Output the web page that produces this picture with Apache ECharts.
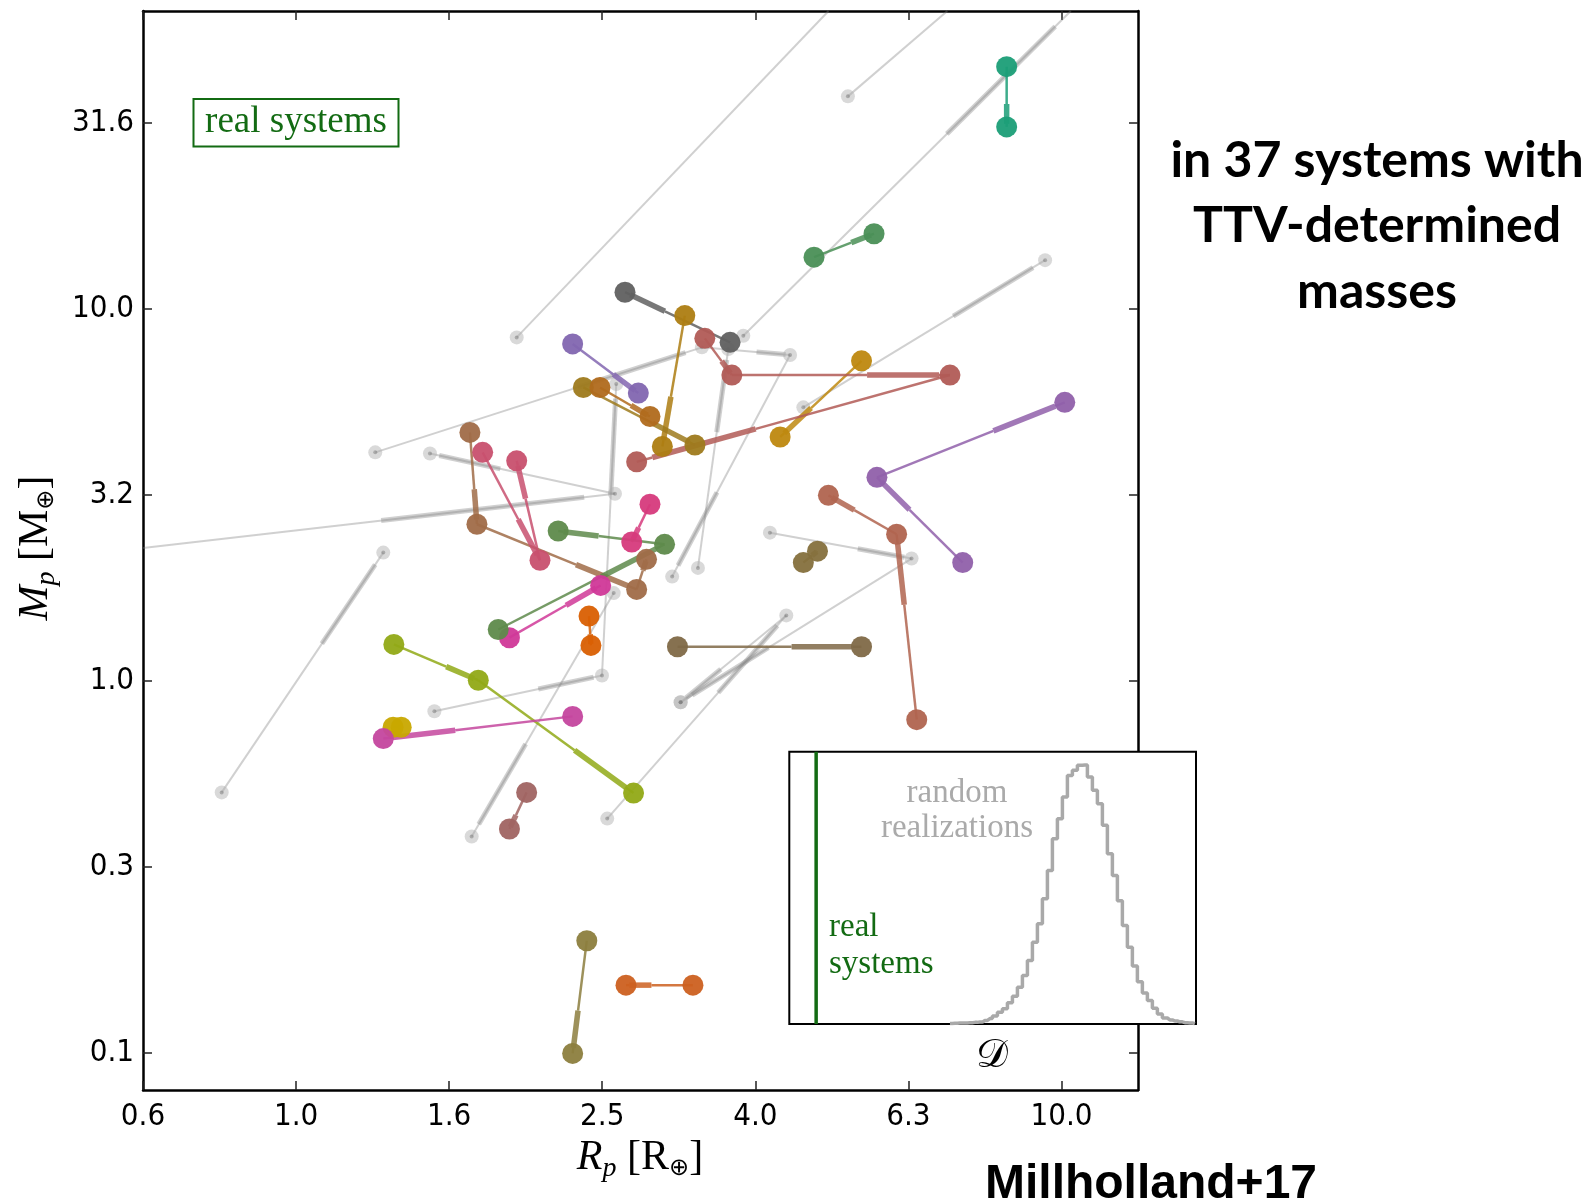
<!DOCTYPE html>
<html><head><meta charset="utf-8">
<script src="https://cdn.jsdelivr.net/npm/echarts@6/dist/echarts.min.js"></script>
<style>html,body{margin:0;padding:0;background:#fff}#main{width:1589px;height:1204px}</style>
</head><body><div id="main"></div>
<script>
// ---------- tick marks ----------
const xTickValues = [0.631, 1.0, 1.585, 2.512, 3.981, 6.310, 10.0];
const xTickLabels = ['0.6', '1.0', '1.6', '2.5', '4.0', '6.3', '10.0'];
const yTickValues = [0.1, 0.3162, 1.0, 3.162, 10.0, 31.62];
const yTickLabels = ['0.1', '0.3', '1.0', '3.2', '10.0', '31.6'];
const xLimits = [0.631, 12.59];   // R_p range shown
const yLimits = [0.0794, 63.1];   // M_p range shown

// ---------- real systems: [R_p, M_p] per planet, in orbital order ----------
const realSystems = [
  [[8.48, 44.7], [8.48, 30.8]],
  [[4.75, 13.75], [5.69, 15.9]],
  [[3.69, 8.12], [2.69, 11.07]],
  [[3.22, 9.58], [3.01, 4.26]],
  [[2.373, 6.14], [3.32, 4.30]],
  [[2.495, 6.14], [2.90, 5.13]],
  [[5.48, 7.24], [4.29, 4.52]],
  [[3.42, 8.32], [3.71, 6.63], [7.15, 6.63], [2.786, 3.875]],
  [[2.298, 8.04], [2.80, 5.93]],
  [[7.43, 2.077], [5.74, 3.52], [10.1, 5.60]],
  [[6.47, 0.786], [6.09, 2.475], [4.96, 3.15]],
  [[3.15, 1.234], [5.48, 1.234]],
  [[4.60, 2.077], [4.80, 2.23]],
  [[1.687, 4.65], [1.723, 2.634], [2.786, 1.76], [2.87, 2.12]],
  [[1.753, 4.11], [2.083, 2.107], [1.942, 3.90]],
  [[2.90, 2.98], [2.745, 2.36]],
  [[1.90, 1.305], [2.50, 1.804]],
  [[1.837, 1.373], [3.03, 2.326], [2.20, 2.526]],
  [[2.414, 1.492], [2.428, 1.244]],
  [[1.342, 1.252], [1.73, 1.003], [2.76, 0.499]],
  [[1.339, 0.750], [1.372, 0.750]],
  [[2.298, 0.802], [1.30, 0.699]],
  [[2.001, 0.501], [1.90, 0.3994]],
  [[2.398, 0.2001], [2.298, 0.0996]],
  [[3.30, 0.152], [2.698, 0.152]]
];
const realColors = [
  '#1b9e77', '#4a8f56', '#606060', '#ad7d12', '#9e7a1c', '#b06a1c', '#be880f',
  '#b15b56', '#8266b0', '#9060aa', '#b0644f', '#7f6947', '#85703d', '#a06c48',
  '#c8506e', '#d63a7c', '#d03898', '#5e8a4b', '#d95f02', '#91a916', '#c8a800',
  '#c4469e', '#a06462', '#8c7e3e', '#cc6020'
];

// ---------- random realizations (grey) ----------
const randomSystems = [
  [[1.942, 8.37], [15.85, 769]],
  [[5.26, 37.2], [19.95, 392]],
  [[3.84, 8.46], [10.31, 63.4]],
  [[4.60, 5.43], [9.52, 13.5]],
  [[1.269, 4.11], [3.39, 7.87], [4.42, 7.51], [3.10, 1.905]],
  [[0.410, 2.055], [2.61, 3.18], [1.496, 4.08]],
  [[4.16, 2.50], [6.37, 2.13], [3.18, 0.875]],
  [[2.55, 0.426], [4.37, 1.498], [3.18, 0.875]],
  [[3.35, 2.01], [3.67, 7.79]],
  [[1.516, 0.828], [2.51, 1.033], [2.62, 6.27]],
  [[2.60, 1.72], [1.696, 0.3815]],
  [[0.7995, 0.501], [1.30, 2.21]]
];

// ---------- inset: distribution of the statistic D ----------
const histCounts = [0.2, 0.3, 0.4, 0.4, 0.5, 0.6, 0.7, 1.3, 2.0, 2.9, 4.3, 5.6, 7.8, 10.2, 13.5,
  17.8, 23.3, 30, 36.8, 46, 56.4, 68, 75.4, 83.4, 91.3, 93.2, 95, 95.1, 90.7, 85.8, 80.9,
  73, 62.5, 54.5, 45.3, 36.2, 28.2, 21.3, 15.5, 11.4, 8.6, 5.8, 3.7, 2.2, 1.5, 1.1, 0.8,
  0.5, 0.4, 0.1];
const histStart = 39.5, histBinWidth = 1.229;
const realStatistic = 6.6;

// ---------- build ----------
const L = v => Math.log10(v);
const r3 = v => Math.round(v * 1000) / 1000;

function clipSeg(x1, y1, x2, y2, r) {
  let t0 = 0, t1 = 1;
  const dx = x2 - x1, dy = y2 - y1;
  const p = [-dx, dx, -dy, dy];
  const q = [x1 - r.x, r.x + r.width - x1, y1 - r.y, r.y + r.height - y1];
  for (let i = 0; i < 4; i++) {
    if (p[i] === 0) { if (q[i] < 0) return null; }
    else {
      const t = q[i] / p[i];
      if (p[i] < 0) { if (t > t1) return null; if (t > t0) t0 = t; }
      else { if (t < t0) return null; if (t < t1) t1 = t; }
    }
  }
  return [x1 + t0 * dx, y1 + t0 * dy, x1 + t1 * dx, y1 + t1 * dy];
}

function makeRender(grey) {
  return function (params, api) {
    const p1 = api.coord([api.value(0), api.value(1)]);
    const p2 = api.coord([api.value(2), api.value(3)]);
    const k = api.value(4);
    const cs = params.coordSys;
    const rect = { x: cs.x, y: cs.y, width: cs.width, height: cs.height };
    const stroke = grey ? 'rgba(125,125,125,0.36)' : realColors[k];
    const at = t => [p1[0] + (p2[0] - p1[0]) * t, p1[1] + (p2[1] - p1[1]) * t];
    const ta = 0.62, tb = 0.95;
    const qa = at(ta), qb = at(tb);
    const parts = grey
      ? [[p1, p2, 2], [qa, qb, 5]]
      : [[p1, qa, 2.5], [qa, qb, 5.5], [qb, p2, 2.5]];
    const children = [];
    parts.forEach(([a, b, w]) => {
      const c = clipSeg(a[0], a[1], b[0], b[1], rect);
      if (c) children.push({
        type: 'line',
        shape: { x1: c[0], y1: c[1], x2: c[2], y2: c[3] },
        style: { stroke: stroke, lineWidth: w, opacity: grey ? 1 : 0.85, lineCap: 'butt' }
      });
    });
    return { type: 'group', children: children };
  };
}

const greySegs = [], realSegs = [];
randomSystems.forEach(sys => {
  for (let i = 0; i < sys.length - 1; i++)
    greySegs.push([L(sys[i][0]), L(sys[i][1]), L(sys[i + 1][0]), L(sys[i + 1][1]), -1]);
});
realSystems.forEach((sys, k) => {
  for (let i = 0; i < sys.length - 1; i++)
    realSegs.push([L(sys[i][0]), L(sys[i][1]), L(sys[i + 1][0]), L(sys[i + 1][1]), k]);
});
const greyPts = [];
randomSystems.forEach(sys => sys.forEach(p => greyPts.push([L(p[0]), L(p[1])])));
const realPts = [];
realSystems.forEach((sys, k) => sys.forEach(p => realPts.push({
  value: [L(p[0]), L(p[1])], itemStyle: { color: realColors[k], opacity: 0.95 }
})));

const xMin = r3(L(xLimits[0])), xMax = r3(L(xLimits[1]));
const yMin = r3(L(yLimits[0])), yMax = r3(L(yLimits[1]));
const xTickPos = xTickValues.map(v => r3(L(v)));
const yTickPos = yTickValues.map(v => r3(L(v)));
function labelFor(pos, labels) {
  return v => {
    let b = 0;
    for (let i = 1; i < pos.length; i++) if (Math.abs(pos[i] - v) < Math.abs(pos[b] - v)) b = i;
    return labels[b];
  };
}

const tickFont = { fontFamily: "'DejaVu Sans Condensed','DejaVu Sans'", fontSize: 31, color: '#000' };
function mainAxis(kind, position, show) {
  const isX = kind === 'x';
  return {
    type: 'value', gridIndex: 0, position: position,
    min: isX ? xMin : yMin, max: isX ? xMax : yMax,
    axisLine: { show: true, onZero: false, lineStyle: { color: '#000', width: 2.5 } },
    axisTick: { show: true, inside: true, length: 9, lineStyle: { color: '#222', width: 1.5 },
      customValues: isX ? xTickPos : yTickPos },
    axisLabel: Object.assign({ show: show, margin: isX ? 11 : 9,
      customValues: isX ? xTickPos : yTickPos,
      formatter: labelFor(isX ? xTickPos : yTickPos, isX ? xTickLabels : yTickLabels) }, tickFont),
    splitLine: { show: false }
  };
}

const serif = "'Liberation Serif','DejaVu Serif',serif";
const green = '#136b13';

const option = {
  animation: false,
  backgroundColor: '#fff',
  grid: [
    { left: 143, top: 11, width: 995, height: 1079, outerBoundsMode: 'none' },
    { left: 789.3, top: 751.7, width: 406.7, height: 272.3, outerBoundsMode: 'none' }
  ],
  xAxis: [
    mainAxis('x', 'bottom', true),
    mainAxis('x', 'top', false),
    { type: 'value', gridIndex: 1, min: 0, max: 100, show: false }
  ],
  yAxis: [
    mainAxis('y', 'left', true),
    mainAxis('y', 'right', false),
    { type: 'value', gridIndex: 1, min: 0, max: 100, show: false }
  ],
  series: [
    { type: 'custom', xAxisIndex: 0, yAxisIndex: 0, renderItem: makeRender(true),
      data: greySegs, encode: { x: [0, 2], y: [1, 3] }, z: 1, silent: true },
    { type: 'scatter', xAxisIndex: 0, yAxisIndex: 0, data: greyPts, symbolSize: 14,
      itemStyle: { color: 'rgba(175,175,175,0.6)' }, z: 2, silent: true },
    { type: 'scatter', xAxisIndex: 0, yAxisIndex: 0, data: greyPts, symbolSize: 4,
      itemStyle: { color: 'rgba(110,110,110,0.55)' }, z: 2, silent: true },
    { type: 'custom', xAxisIndex: 0, yAxisIndex: 0, renderItem: makeRender(false),
      data: realSegs, encode: { x: [0, 2], y: [1, 3] }, z: 3, silent: true },
    { type: 'scatter', xAxisIndex: 0, yAxisIndex: 0, data: realPts, symbolSize: 21,
      z: 4, silent: true },
    { type: 'line', xAxisIndex: 2, yAxisIndex: 2, step: 'middle', showSymbol: false, symbol: 'none',
      data: histCounts.map((c, i) => [histStart + i * histBinWidth, c]),
      lineStyle: { color: '#a9a9a9', width: 3.5 }, z: 20, silent: true },
    { type: 'line', xAxisIndex: 2, yAxisIndex: 2, showSymbol: false, symbol: 'none',
      data: [[realStatistic, 0], [realStatistic, 100]],
      lineStyle: { color: green, width: 3.5 }, z: 20, silent: true }
  ],
  graphic: [
    { type: 'rect', z: 10, shape: { x: 789.3, y: 751.7, width: 406.7, height: 272.3 },
      style: { fill: '#fff', stroke: '#000', lineWidth: 2 } },
    { type: 'text', z: 25, x: 957, y: 793,
      style: { text: 'random', fontFamily: serif, fontSize: 33, fill: '#aaaaaa', textAlign: 'center', textVerticalAlign: 'middle' } },
    { type: 'text', z: 25, x: 957, y: 828,
      style: { text: 'realizations', fontFamily: serif, fontSize: 33, fill: '#aaaaaa', textAlign: 'center', textVerticalAlign: 'middle' } },
    { type: 'text', z: 25, x: 829, y: 927,
      style: { text: 'real', fontFamily: serif, fontSize: 33, fill: green, textAlign: 'left', textVerticalAlign: 'middle' } },
    { type: 'text', z: 25, x: 829, y: 964,
      style: { text: 'systems', fontFamily: serif, fontSize: 33, fill: green, textAlign: 'left', textVerticalAlign: 'middle' } },
    { type: 'text', z: 25, x: 992, y: 1057,
      style: { text: '𝒟', fontFamily: "'DejaVu Sans','DejaVu Serif'", fontSize: 40, fill: '#000', textAlign: 'center', textVerticalAlign: 'middle' } },
    { type: 'rect', z: 5, shape: { x: 193.5, y: 99, width: 205, height: 47.5 },
      style: { fill: '#fff', stroke: green, lineWidth: 2 } },
    { type: 'text', z: 6, x: 296, y: 122,
      style: { text: 'real systems', fontFamily: serif, fontSize: 37, fill: green, textAlign: 'center', textVerticalAlign: 'middle' } },
    { type: 'text', z: 6, x: 640, y: 1158,
      style: { text: '{i|R}{s|p} [R{o|⊕}]', fontFamily: serif, fontSize: 42, fill: '#000',
        textAlign: 'center', textVerticalAlign: 'middle',
        rich: { i: { fontStyle: 'italic', fontFamily: serif, fontSize: 42 },
                s: { fontStyle: 'italic', fontFamily: serif, fontSize: 28, padding: [22, 0, 0, 0] },
                o: { fontFamily: "'DejaVu Sans'", fontSize: 24, padding: [22, 0, 0, 0] } } } },
    { type: 'text', z: 6, x: 36, y: 548, rotation: Math.PI / 2,
      style: { text: '{i|M}{s|p} [M{o|⊕}]', fontFamily: serif, fontSize: 42, fill: '#000',
        textAlign: 'center', textVerticalAlign: 'middle',
        rich: { i: { fontStyle: 'italic', fontFamily: serif, fontSize: 42 },
                s: { fontStyle: 'italic', fontFamily: serif, fontSize: 28, padding: [22, 0, 0, 0] },
                o: { fontFamily: "'DejaVu Sans'", fontSize: 24, padding: [22, 0, 0, 0] } } } },
    { type: 'text', z: 6, x: 1377, y: 161,
      style: { text: 'in 37 systems with', fontFamily: 'Lato', fontWeight: 'bold', fontSize: 50, fill: '#000', textAlign: 'center', textVerticalAlign: 'middle' } },
    { type: 'text', z: 6, x: 1377, y: 226,
      style: { text: 'TTV-determined', fontFamily: 'Lato', fontWeight: 'bold', fontSize: 50, fill: '#000', textAlign: 'center', textVerticalAlign: 'middle' } },
    { type: 'text', z: 6, x: 1377, y: 292,
      style: { text: 'masses', fontFamily: 'Lato', fontWeight: 'bold', fontSize: 50, fill: '#000', textAlign: 'center', textVerticalAlign: 'middle' } },
    { type: 'text', z: 6, x: 1151, y: 1185,
      style: { text: 'Millholland+17', fontFamily: "'Liberation Sans Narrow','Liberation Sans'", fontWeight: 'bold', fontSize: 48, fill: '#000', textAlign: 'center', textVerticalAlign: 'middle' } }
  ]
};

const chart = echarts.init(document.getElementById('main'), null, { renderer: 'canvas' });
chart.setOption(option);
</script>
</body></html>
